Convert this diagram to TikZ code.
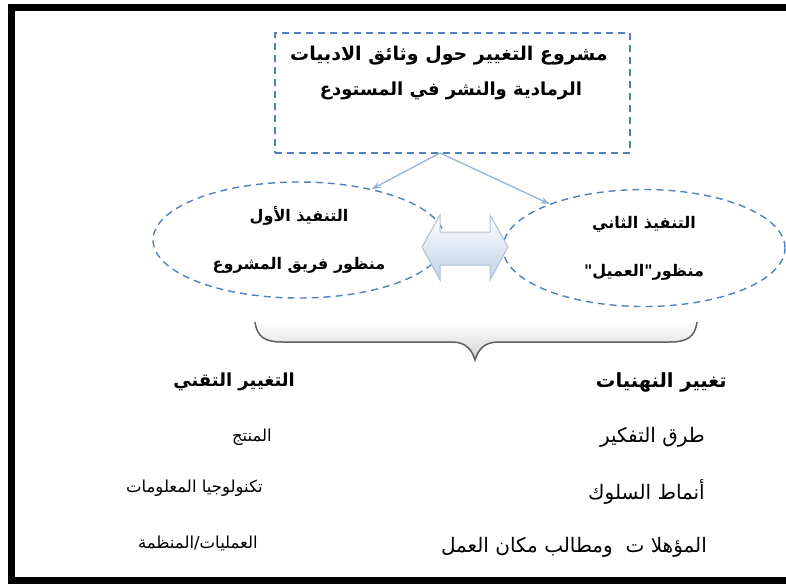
\documentclass[tikz,border=0pt]{standalone}
\usepackage{fontspec}
\usepackage{xcolor}
\usetikzlibrary{arrows.meta,positioning,calc,shapes.geometric}
\TeXXeTstate=1
\newfontfamily\arfont[Script=Arabic]{DejaVu Sans}
\definecolor{dashblue}{RGB}{79,129,189}
\definecolor{arrblue}{RGB}{149,179,215}
\definecolor{dblfill}{RGB}{190,208,232}
\definecolor{dbledge}{RGB}{175,190,210}
\newcommand{\rtl}[1]{\beginR #1\endR}

\begin{document}
\begin{tikzpicture}[x=1pt,y=-1pt,>=Stealth,
  dashbox/.style={draw=dashblue,line width=1.4pt,dash pattern=on 7pt off 5pt},
  lefttext/.style={font=\arfont\fontsize{16.5}{18}\selectfont,inner sep=0pt,anchor=east},
  lefthead/.style={font=\arfont\bfseries\fontsize{18}{20}\selectfont,inner sep=0pt,anchor=east},
  righttext/.style={font=\arfont\fontsize{20}{22}\selectfont,inner sep=0pt,anchor=east},
  righthead/.style={font=\arfont\bfseries\fontsize{19.5}{22}\selectfont,inner sep=0pt,anchor=east},
  ovaltext/.style={font=\arfont\bfseries\fontsize{16}{48}\selectfont,align=center}]
  \useasboundingbox (0,0) rectangle (786,584);
  % outer frame (right side lies outside the page)
  \draw[line width=7pt] (11,7.5) rectangle (800,580.5);
  % project box
  \node[dashbox,minimum width=355pt,minimum height=120pt,inner sep=0pt] (proj) at (452.5,93) {};
  \node[font=\arfont\bfseries\fontsize{19}{22}\selectfont,inner sep=0pt] (projA) at (449,56) {\rtl{مشروع التغيير حول وثائق الادبيات}};
  \node[font=\arfont\bfseries\fontsize{18}{22}\selectfont,inner sep=0pt] (projB) at (451,91) {\rtl{الرمادية والنشر في المستودع}};
  % two implementations
  \node[dashbox,ellipse,minimum width=292pt,minimum height=116pt,inner sep=0pt,ovaltext] (implA) at (299,240)
    {\rtl{التنفيذ الأول}\\\rtl{منظور فريق المشروع}};
  \node[dashbox,ellipse,minimum width=282pt,minimum height=117pt,inner sep=0pt,ovaltext] (implB) at (644,248)
    {\rtl{التنفيذ الثاني}\\\rtl{منظور"العميل"}};
  \coordinate (split) at (440,153);
  \draw[->,arrblue,line width=1.3pt] (split) -- (implA.35);
  \draw[->,arrblue,line width=1.3pt] (split) -- (implB.155);
  % double arrow between the two
  \shade[top color=white,bottom color=dblfill,draw=dbledge,line width=1pt]
    (422,247) -- (440,215) -- (440,232) -- (490,232) -- (490,215) -- (508,247)
    -- (490,280) -- (490,265) -- (440,265) -- (440,280) -- cycle;
  % brace
  \shade[top color=white,bottom color=gray!35]
    (255,322) .. controls (257,337) and (265,342) .. (282,342) -- (452,342)
    .. controls (466,342) and (472,350) .. (475,360)
    .. controls (478,350) and (484,342) .. (498,342) -- (670,342)
    .. controls (687,342) and (695,337) .. (697,322) -- cycle;
  \draw[gray!75!black,line width=1.5pt]
    (255,322) .. controls (257,337) and (265,342) .. (282,342) -- (452,342)
    .. controls (466,342) and (472,350) .. (475,360)
    .. controls (478,350) and (484,342) .. (498,342) -- (670,342)
    .. controls (687,342) and (695,337) .. (697,322);
  % technical change
  \node[lefthead] (techH) at (295,382) {\rtl{التغيير التقني}};
  \node[lefttext] (tech1) at (272,437) {\rtl{المنتج}};
  \node[lefttext] (tech2) at (263,488) {\rtl{تكنولوجيا المعلومات}};
  \node[lefttext] (tech3) at (258,543) {\rtl{العمليات/المنظمة}};
  % change of mindsets
  \node[righthead] (mindH) at (727,382) {\rtl{تغيير النهنيات}};
  \node[righttext] (mind1) at (705,437) {\rtl{طرق التفكير}};
  \node[righttext] (mind2) at (705,492) {\rtl{أنماط السلوك}};
  \node[righttext] (mind3) at (707,547) {\rtl{المؤهلا ت\ \ ومطالب مكان العمل}};
\end{tikzpicture}
\end{document}
